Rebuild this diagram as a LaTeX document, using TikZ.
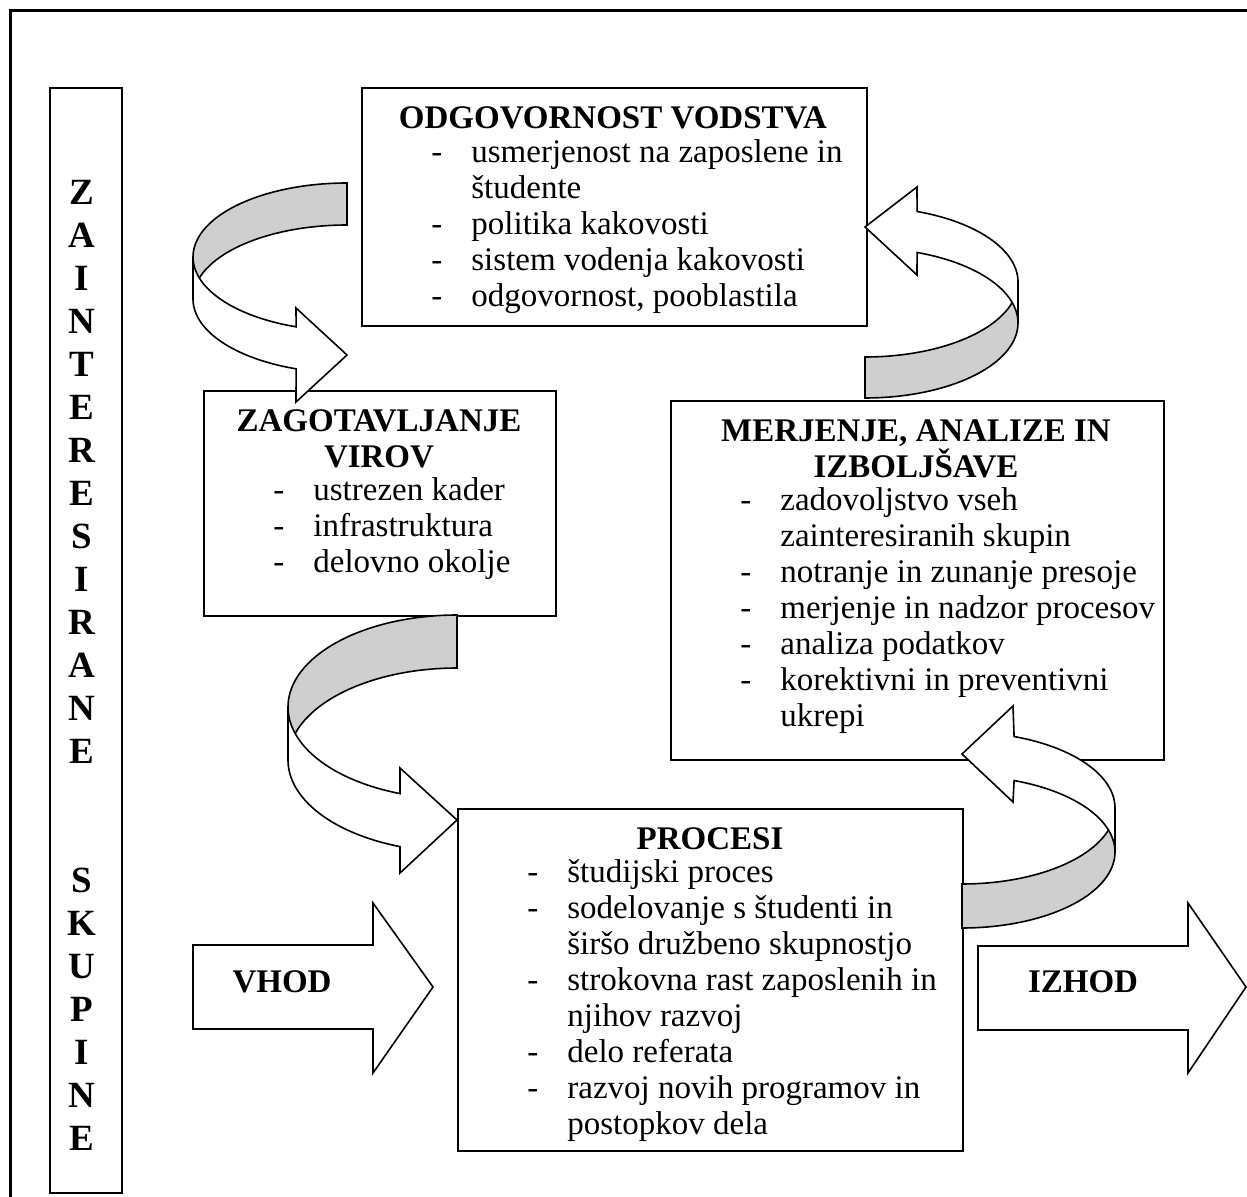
\documentclass[tikz,border=0pt]{standalone}
\usepackage{fontspec}
\setmainfont{Liberation Serif}
\begin{document}
\begin{tikzpicture}[x=0.5pt,y=-0.5pt]
\useasboundingbox (0,0) rectangle (1247,1197);
\tikzset{
  boxst/.style={draw, line width=1pt, fill=white, inner sep=0pt, anchor=north west},
  rib/.style={draw, line width=0.8pt, line join=miter},
  ribgray/.style={rib, fill=black!19},
  ribwhite/.style={rib, fill=white},
  txt/.style={inner sep=0pt, font=\fontsize{16.5}{18}\selectfont},
  ttl/.style={inner sep=0pt, font=\fontsize{16.5}{18}\selectfont\bfseries, align=center},
  bigarrow/.style={draw, line width=0.8pt, fill=white, line join=miter}
}
% outer frame
\draw[line width=1.5pt] (10,1260) -- (10,11) -- (1300,11);

% boxes
\node[boxst, minimum width=36pt, minimum height=552.5pt] (bar) at (49,87) {};
\node[boxst, minimum width=252.5pt, minimum height=119pt] (odg) at (361,87) {};
\node[boxst, minimum width=176pt, minimum height=112.5pt] (zag) at (203,390) {};
\node[boxst, minimum width=246.5pt, minimum height=179.5pt] (mer) at (670,400) {};
\node[boxst, minimum width=252.5pt, minimum height=171pt] (pro) at (457,808) {};

% left bar text
\node[inner sep=0pt, anchor=north, align=center, font=\fontsize{18.5}{21.5}\selectfont\bfseries] (barT) at (82,180)
 {Z\\A\\I\\N\\T\\E\\R\\E\\S\\I\\R\\A\\N\\E\\[43pt]S\\K\\U\\P\\I\\N\\E};

% ODGOVORNOST VODSTVA
\node[ttl] (odgT) at (613,118) {ODGOVORNOST VODSTVA};
\node[txt, anchor=north west] (odgL) at (431,137) {\begin{tabular}{@{}p{20pt}@{}l@{}}
-&usmerjenost na zaposlene in\\ &študente\\ -&politika kakovosti\\ -&sistem vodenja kakovosti\\ -&odgovornost, pooblastila\end{tabular}};

% ZAGOTAVLJANJE VIROV
\node[ttl] (zagT) at (379,439) {ZAGOTAVLJANJE\\VIROV};
\node[txt, anchor=north west] (zagL) at (273,475) {\begin{tabular}{@{}p{20pt}@{}l@{}}
-&ustrezen kader\\ -&infrastruktura\\ -&delovno okolje\end{tabular}};

% MERJENJE
\node[ttl] (merT) at (916,449) {MERJENJE, ANALIZE IN\\IZBOLJŠAVE};
\node[txt, anchor=north west] (merL) at (740,485) {\begin{tabular}{@{}p{20pt}@{}l@{}}
-&zadovoljstvo vseh\\ &zainteresiranih skupin\\ -&notranje in zunanje presoje\\ -&merjenje in nadzor procesov\\ -&analiza podatkov\\ -&korektivni in preventivni\\ &ukrepi\end{tabular}};

% PROCESI
\node[ttl] (proT) at (710,839) {PROCESI};
\node[txt, anchor=north west] (proL) at (527,857) {\begin{tabular}{@{}p{20pt}@{}l@{}}
-&študijski proces\\ -&sodelovanje s študenti in\\ &širšo družbeno skupnostjo\\ -&strokovna rast zaposlenih in\\ &njihov razvoj\\ -&delo referata\\ -&razvoj novih programov in\\ &postopkov dela\end{tabular}};

% curved arrow 1 (ODG -> ZAG)
\draw[ribgray] plot[domain=270:180,samples=40] ({347+154*cos(\x)},{257+74*sin(\x)})
  -- plot[domain=180:270,samples=40] ({347+154*cos(\x)},{299+74*sin(\x)}) -- cycle;
\draw[ribwhite] plot[domain=180:109.3,samples=40] ({347+154*cos(\x)},{257+74*sin(\x)})
  -- (296,308) -- (347,355) -- (296,402)
  -- plot[domain=109.3:180,samples=40] ({347+154*cos(\x)},{299+74*sin(\x)}) -- cycle;

% curved arrow 2 (MER -> ODG)
\draw[ribgray] plot[domain=90:0,samples=40] ({865+153*cos(\x)},{282+75*sin(\x)})
  -- plot[domain=0:90,samples=40] ({865+153*cos(\x)},{323+75*sin(\x)}) -- cycle;
\draw[ribwhite] plot[domain=360:289.9,samples=40] ({865+153*cos(\x)},{282+75*sin(\x)})
  -- (917,187) -- (865,227) -- (917,275)
  -- plot[domain=289.9:360,samples=40] ({865+153*cos(\x)},{323+75*sin(\x)}) -- cycle;

% curved arrow 3 (ZAG -> PRO)
\draw[ribgray] plot[domain=270:180,samples=40] ({457+169*cos(\x)},{707+92*sin(\x)})
  -- plot[domain=180:270,samples=40] ({457+169*cos(\x)},{760+92*sin(\x)}) -- cycle;
\draw[ribwhite] plot[domain=180:109.7,samples=40] ({457+169*cos(\x)},{707+92*sin(\x)})
  -- (400,768) -- (457,820) -- (400,873)
  -- plot[domain=109.7:180,samples=40] ({457+169*cos(\x)},{760+92*sin(\x)}) -- cycle;

% curved arrow 4 (PRO -> MER)
\draw[ribgray] plot[domain=90:0,samples=40] ({962+153*cos(\x)},{808+76*sin(\x)})
  -- plot[domain=0:90,samples=40] ({962+153*cos(\x)},{852+76*sin(\x)}) -- cycle;
\draw[ribwhite] plot[domain=360:289.9,samples=40] ({962+153*cos(\x)},{808+76*sin(\x)})
  -- (1013,706) -- (962,754) -- (1013,802)
  -- plot[domain=289.9:360,samples=40] ({962+153*cos(\x)},{852+76*sin(\x)}) -- cycle;

% VHOD / IZHOD block arrows
\draw[bigarrow] (193,945) -- (373,945) -- (373,903) -- (433,987) -- (373,1073) -- (373,1029) -- (193,1029) -- cycle;
\node[ttl] (vhod) at (282,982) {VHOD};
\draw[bigarrow] (978,946) -- (1188,946) -- (1188,903) -- (1246,987) -- (1188,1073) -- (1188,1030) -- (978,1030) -- cycle;
\node[ttl] (izhod) at (1083,982) {IZHOD};
\end{tikzpicture}
\end{document}
